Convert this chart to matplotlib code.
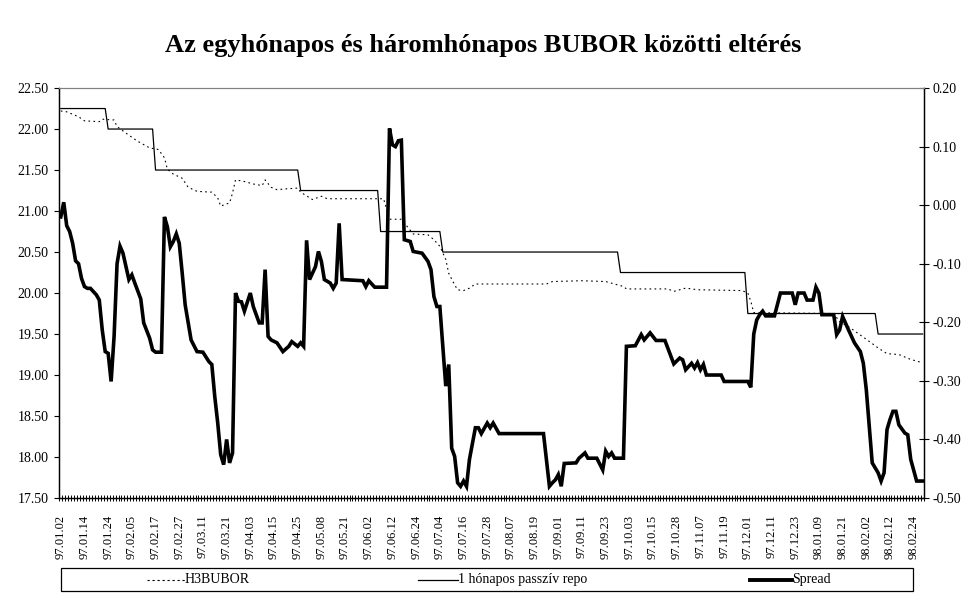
import numpy as np
import matplotlib
matplotlib.use("Agg")
import matplotlib.pyplot as plt
from matplotlib.ticker import FuncFormatter, MultipleLocator
from matplotlib.lines import Line2D
from matplotlib.patches import Rectangle

plt.rcParams['font.family'] = ['Liberation Serif', 'DejaVu Serif']
plt.rcParams['axes.unicode_minus'] = False

# trading days, one label every 8th day
n_days = 292
tick_labels = ["97.01.02", "97.01.14", "97.01.24", "97.02.05", "97.02.17", "97.02.27",
               "97.03.11", "97.03.21", "97.04.03", "97.04.15", "97.04.25", "97.05.08",
               "97.05.21", "97.06.02", "97.06.12", "97.06.24", "97.07.04", "97.07.16",
               "97.07.28", "97.08.07", "97.08.19", "97.09.01", "97.09.11", "97.09.23",
               "97.10.03", "97.10.15", "97.10.28", "97.11.07", "97.11.19", "97.12.01",
               "97.12.11", "97.12.23", "98.01.09", "98.01.21", "98.02.02", "98.02.12",
               "98.02.24"]
label_step = 8

# 1 hónapos passzív repo: level and first day index of the level
repo_start = [0, 16, 32, 81, 108, 129, 189, 232, 276]
repo_level = [22.25, 22.00, 21.50, 21.25, 20.75, 20.50, 20.25, 19.75, 19.50]

# H3BUBOR (left axis), day index / value
h3_day = [0, 2, 6, 8, 13, 14, 18, 19, 22, 26, 28, 30, 33, 35, 36, 38, 41, 43, 46, 51,
          53, 54, 57, 58, 59, 62, 65, 68, 69, 71, 73, 76, 80, 81, 85, 88, 90, 107, 109,
          111, 115, 119, 124, 126, 128, 130, 131, 133, 134, 136, 138, 140, 164, 166, 176,
          184, 190, 191, 205, 207, 211, 215, 230, 232, 233, 234, 261, 263, 266, 273, 276,
          279, 283, 287, 291]
h3_val = [22.22, 22.21, 22.15, 22.10, 22.09, 22.12, 22.11, 22.03, 21.95, 21.85, 21.81,
          21.77, 21.75, 21.65, 21.51, 21.45, 21.40, 21.29, 21.24, 21.23, 21.16, 21.06,
          21.10, 21.22, 21.38, 21.36, 21.33, 21.31, 21.38, 21.29, 21.26, 21.27, 21.28,
          21.23, 21.14, 21.18, 21.15, 21.15, 21.15, 20.90, 20.90, 20.72, 20.71, 20.65,
          20.57, 20.41, 20.24, 20.10, 20.04, 20.03, 20.06, 20.11, 20.11, 20.14, 20.15,
          20.14, 20.08, 20.05, 20.05, 20.02, 20.06, 20.04, 20.03, 20.00, 19.90, 19.76,
          19.75, 19.65, 19.59, 19.41, 19.33, 19.26, 19.25, 19.19, 19.15]

# Spread (right axis), day index / value
sp_day = [0, 1, 2, 3, 4, 5, 6, 7, 8, 9, 10, 12, 13, 14, 15, 16, 17, 18, 19, 20, 21, 23,
          24, 25, 27, 28, 30, 31, 32, 34, 35, 36, 37, 38, 39, 40, 41, 42, 44, 46, 48, 50,
          51, 52, 53, 54, 55, 56, 57, 58, 59, 60, 61, 62, 64, 65, 67, 68, 69, 70, 71, 73,
          75, 77, 78, 80, 81, 82, 83, 84, 86, 87, 88, 89, 91, 92, 93, 94, 95, 102, 103,
          104, 106, 110, 111, 112, 113, 114, 115, 116, 118, 119, 122, 124, 125, 126, 127,
          128, 129, 130, 131, 132, 133, 134, 135, 136, 137, 138, 140, 141, 142, 144, 145,
          146, 148, 163, 165, 166, 167, 168, 169, 170, 174, 175, 177, 178, 181, 183, 184,
          185, 186, 187, 190, 191, 194, 196, 197, 199, 201, 204, 206, 207, 209, 210, 211,
          213, 214, 215, 216, 217, 218, 223, 224, 232, 233, 234, 235, 236, 237, 238, 241,
          243, 247, 248, 249, 251, 252, 254, 255, 256, 257, 261, 262, 263, 264, 266, 268,
          270, 271, 272, 273, 274, 276, 277, 278, 279, 280, 281, 282, 283, 285, 286, 287,
          289, 291]
sp_val = [-0.020, 0.005, -0.035, -0.045, -0.065, -0.095, -0.100, -0.125, -0.139, -0.142,
          -0.142, -0.153, -0.162, -0.213, -0.250, -0.253, -0.301, -0.224, -0.100, -0.070,
          -0.082, -0.127, -0.119, -0.133, -0.160, -0.201, -0.227, -0.247, -0.251, -0.251,
          -0.020, -0.037, -0.071, -0.062, -0.049, -0.065, -0.116, -0.170, -0.230, -0.250,
          -0.251, -0.267, -0.272, -0.327, -0.372, -0.426, -0.443, -0.400, -0.440, -0.423,
          -0.150, -0.164, -0.165, -0.181, -0.150, -0.173, -0.201, -0.201, -0.110, -0.224,
          -0.230, -0.235, -0.250, -0.241, -0.233, -0.241, -0.235, -0.241, -0.060, -0.127,
          -0.105, -0.079, -0.096, -0.127, -0.133, -0.142, -0.133, -0.031, -0.127, -0.129,
          -0.139, -0.129, -0.140, -0.140, 0.131, 0.103, 0.100, 0.110, 0.111, -0.059,
          -0.062, -0.079, -0.082, -0.096, -0.110, -0.156, -0.173, -0.173, -0.241, -0.309,
          -0.272, -0.415, -0.429, -0.474, -0.480, -0.471, -0.480, -0.434, -0.380, -0.380,
          -0.390, -0.372, -0.380, -0.372, -0.390, -0.390, -0.480, -0.474, -0.469, -0.460,
          -0.480, -0.441, -0.440, -0.432, -0.423, -0.432, -0.432, -0.452, -0.420, -0.429,
          -0.423, -0.432, -0.432, -0.241, -0.240, -0.221, -0.230, -0.218, -0.231, -0.231,
          -0.258, -0.271, -0.261, -0.264, -0.281, -0.270, -0.278, -0.269, -0.281, -0.272,
          -0.290, -0.290, -0.301, -0.301, -0.311, -0.220, -0.196, -0.187, -0.181, -0.189,
          -0.189, -0.150, -0.150, -0.170, -0.150, -0.150, -0.162, -0.162, -0.140, -0.150,
          -0.187, -0.187, -0.221, -0.213, -0.190, -0.213, -0.235, -0.250, -0.270, -0.315,
          -0.378, -0.440, -0.457, -0.471, -0.457, -0.383, -0.366, -0.352, -0.352, -0.375,
          -0.389, -0.392, -0.434, -0.471, -0.471]

days = np.arange(n_days)
repo = np.repeat(repo_level, np.diff(repo_start + [n_days]))

fig = plt.figure(figsize=(9.69, 6.03), dpi=100)
ax = fig.add_axes([0.0612, 0.1741, 0.8924, 0.6799])
ax2 = ax.twinx()

ax.plot(h3_day, h3_val, color='black', lw=0.8, ls=(0, (1.5, 3)))
ax.plot(days, repo, color='black', lw=0.9)
ax2.plot(sp_day, sp_val, color='black', lw=2.6, solid_joinstyle='miter')

ax.set_xlim(-0.5, n_days - 0.5)
ax.set_ylim(17.5, 22.5)
ax2.set_ylim(-0.5, 0.2)

ax.yaxis.set_major_locator(MultipleLocator(0.5))
ax.yaxis.set_major_formatter(FuncFormatter(lambda v, p: f"{v:.2f}"))
ax2.yaxis.set_major_locator(MultipleLocator(0.1))
ax2.yaxis.set_major_formatter(FuncFormatter(lambda v, p: f"{v:.2f}"))

ax.set_xticks(np.arange(len(tick_labels)) * label_step)
ax.set_xticklabels(tick_labels, rotation=90, fontsize=9)
ax.set_xticks(np.arange(n_days + 1) - 0.5, minor=True)
ax.tick_params(axis='x', which='major', length=0, pad=12)
ax.tick_params(axis='x', which='minor', direction='inout', length=4.5, width=0.7)
ax.tick_params(axis='y', direction='out', length=3.6, width=0.8, labelsize=10, pad=4)
ax2.tick_params(axis='y', direction='inout', length=6.5, width=0.8, labelsize=10, pad=2.5)

for a in (ax, ax2):
    a.spines['top'].set_color('#808080')
    a.spines['top'].set_linewidth(0.8)
    for s in ('left', 'right', 'bottom'):
        a.spines[s].set_linewidth(0.9)

fig.text(0.4985, 0.914, "Az egyhónapos és háromhónapos BUBOR közötti eltérés",
         ha='center', va='baseline', fontsize=19, fontweight='bold')

# legend box under the axis labels
W, H = 969, 603
fig.add_artist(Rectangle((61 / W, 1 - 590.7 / H), (912.7 - 61) / W, 22.4 / H,
                         transform=fig.transFigure, fill=False, ec='black', lw=0.9))
leg_y = 1 - 579.5 / H
entries = [(146.7, 185, "H3BUBOR", dict(lw=0.8, ls=(0, (2, 2.5)))),
           (418, 458, "1 hónapos passzív repo", dict(lw=0.9)),
           (750, 792, "Spread", dict(lw=2.8))]
for x0, x1, txt, st in entries:
    fig.add_artist(Line2D([x0 / W, x1 / W], [leg_y, leg_y], transform=fig.transFigure,
                          color='black', **st))
    fig.text(x1 / W, leg_y, txt, ha='left', va='center', fontsize=10)

fig.savefig("out.png", dpi=100)
